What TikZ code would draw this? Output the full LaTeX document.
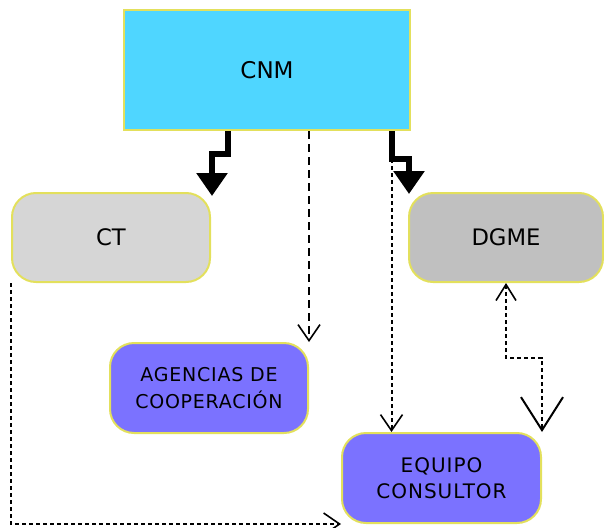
\documentclass[tikz,border=0pt]{standalone}
\usepackage{fontspec}
\setmainfont{DejaVu Sans}
\newfontfamily\spacedfont[LetterSpace=4]{DejaVu Sans}
\newfontfamily\widefont[LetterSpace=5]{DejaVu Sans}
\usepackage{tikz}
\usetikzlibrary{arrows.meta,positioning}
\definecolor{CnmCyan}{HTML}{4FD6FF}
\definecolor{CtGray}{HTML}{D6D6D6}
\definecolor{DgmeGray}{HTML}{C0C0C0}
\definecolor{EquipoViolet}{HTML}{7B72FF}
\definecolor{BoxEdge}{HTML}{E3E05C}

\begin{document}
\begin{tikzpicture}[x=1pt,y=-1pt,
    box/.style={draw=BoxEdge, line width=2pt, rounded corners=24pt, align=center, inner sep=0pt},
    bigarrow/.style={line width=5.8pt, -{Triangle[width=30pt,length=23pt]}},
    longdash/.style={line width=2pt, dash pattern=on 8pt off 5pt},
    shortdash/.style={line width=2pt, dash pattern=on 4pt off 3pt},
    vtip/.tip={Straight Barb[width=22pt,length=16pt,line width=1.6pt]}]
        \useasboundingbox (0,0) rectangle (604,527);
        % boxes
        \node[draw=BoxEdge, line width=2pt, fill=CnmCyan, minimum width=286pt, minimum height=120pt, font=\fontsize{23}{28}\selectfont] (cnm) at (267,70) {CNM};
        \node[box, fill=CtGray, minimum width=198pt, minimum height=89pt, font=\fontsize{22.7}{26}\selectfont] (ct) at (111,237.5) {CT};
        \node[box, fill=DgmeGray, minimum width=194pt, minimum height=89pt, font=\fontsize{22.7}{26}\selectfont] (dgme) at (506,237.5) {DGME};
        \node[box, fill=EquipoViolet, minimum width=198pt, minimum height=90pt, font=\spacedfont\fontsize{19}{27}\selectfont] (agencias) at (209,388) {AGENCIAS DE\\COOPERACIÓN};
        \node[box, fill=EquipoViolet, minimum width=199pt, minimum height=90pt, font=\widefont\fontsize{20}{26}\selectfont] (equipo) at (441.5,478) {EQUIPO\\CONSULTOR};
        \coordinate (e1) at ([xshift=-50pt]equipo.north);

        % connectors
        \draw[shortdash, -{vtip}] (cnm.south -| e1) -- (e1);
        \draw[bigarrow] ([xshift=-39pt]cnm.south) -- ++(0,23) -- ++(-16,0) -- ++(0,42);
        \draw[bigarrow] ([xshift=125pt]cnm.south) -- ++(0,28) -- ++(17,0) -- ++(0,35);
        \draw[longdash, -{vtip}] (agencias.north east |- cnm.south) -- (agencias.north east);
        \draw[shortdash, -{vtip}] (ct.south west) |- (equipo.south west);
        \draw[shortdash, {Straight Barb[width=20pt,length=16pt,line width=1.6pt]}-{Straight Barb[width=42pt,length=33pt,line width=2pt]}]
        (dgme.south) -- ++(0,75) -| (equipo.north east);
    \end{tikzpicture}
\end{document}
